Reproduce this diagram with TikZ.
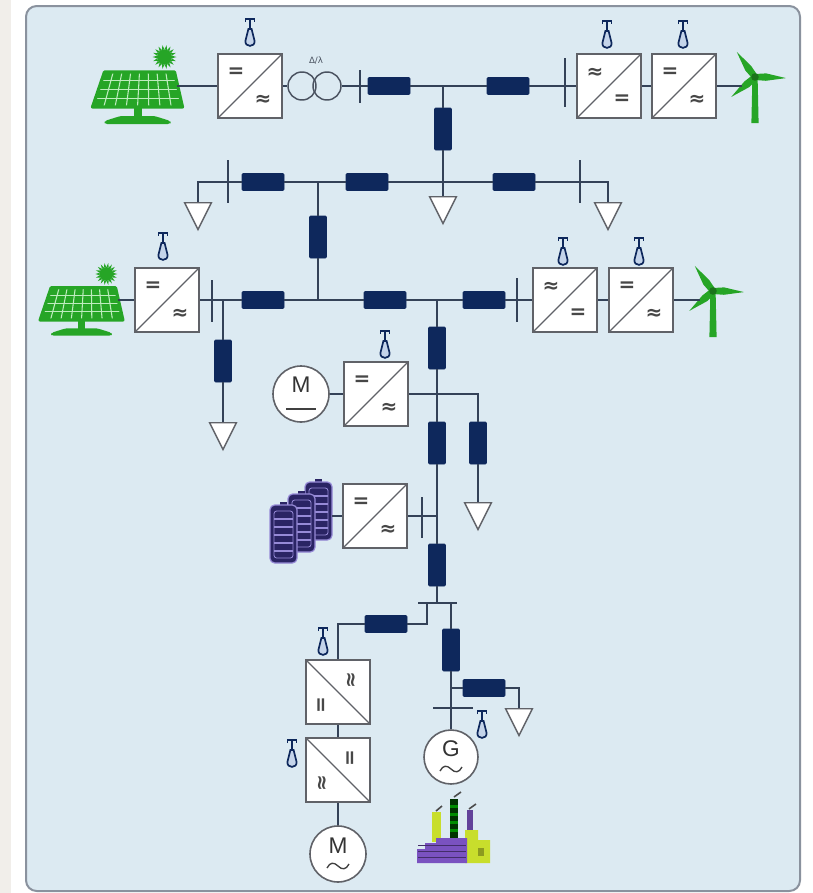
\documentclass[tikz,border=0pt]{standalone}
\usepackage{fontspec}
\setsansfont{Liberation Sans}
\newfontfamily\convfont{DejaVu Sans}
\usetikzlibrary{shapes.geometric,calc}

\definecolor{outerbg}{RGB}{241,238,234}
\definecolor{panelbg}{RGB}{220,234,242}
\definecolor{panelrim}{RGB}{138,146,158}
\definecolor{navy}{RGB}{14,40,92}
\definecolor{wirec}{RGB}{52,66,88}
\definecolor{boxrim}{RGB}{96,98,104}
\definecolor{trcol}{RGB}{74,82,96}
\definecolor{pvgreen}{RGB}{38,165,38}
\definecolor{pvgrid}{RGB}{190,236,190}
\definecolor{antfill}{RGB}{196,212,234}
\definecolor{battc}{RGB}{42,36,100}
\definecolor{battl}{RGB}{150,138,215}
\definecolor{facpurple}{RGB}{122,82,192}
\definecolor{faclime}{RGB}{200,222,44}

\tikzset{
  wire/.style={draw=wirec, line width=1.4pt},
  busbar/.style={draw=wirec, line width=1.5pt},
  seg/.style={rectangle, draw=navy, fill=navy, line width=0.5pt, rounded corners=0.8pt,
    minimum width=31.5pt, minimum height=12.75pt, inner sep=0pt},
  vseg/.style={seg, minimum width=12.75pt, minimum height=31.5pt},
  load/.style={isosceles triangle, isosceles triangle stretches, shape border rotate=270,
    minimum width=20pt, minimum height=20pt, inner sep=0pt, draw=boxrim, fill=white,
    line width=1.1pt, anchor=north},
  convsym/.style={font=\convfont\bfseries\fontsize{15}{17}\selectfont, text=black!72, inner sep=0pt},
  conv/.style 2 args={rectangle, draw=boxrim, fill=white, line width=1.8pt, minimum size=48pt, inner sep=0pt,
    path picture={
      \draw[boxrim, line width=0.9pt] (path picture bounding box.south west) -- (path picture bounding box.north east);
      \node[convsym] at ([shift={(-14,-13)}]path picture bounding box.center) {#1};
      \node[convsym] at ([shift={(13,14)}]path picture bounding box.center) {#2};
    }},
  convr/.style 2 args={rectangle, draw=boxrim, fill=white, line width=1.8pt, minimum size=48pt, inner sep=0pt,
    path picture={
      \draw[boxrim, line width=0.9pt] (path picture bounding box.north west) -- (path picture bounding box.south east);
      \node[convsym, rotate=90] at ([shift={(14,-12)}]path picture bounding box.center) {#1};
      \node[convsym, rotate=90] at ([shift={(-15,13)}]path picture bounding box.center) {#2};
    }},
  machtext/.style={font=\sffamily\fontsize{17}{20}\selectfont, text=black!80, inner sep=0pt},
  dcmach/.style={circle, draw=boxrim, fill=white, line width=1.2pt, minimum size=42pt, inner sep=0pt,
    path picture={
      \node[machtext] at ([shift={(0,-9)}]path picture bounding box.center) {#1};
      \draw[black!75, line width=1pt] ([shift={(-15,15)}]path picture bounding box.center)
        -- ([shift={(15,15)}]path picture bounding box.center);
    }},
  acmach/.style 2 args={circle, draw=boxrim, fill=white, line width=1.2pt, minimum size=#2, inner sep=0pt,
    path picture={
      \node[machtext] at ([shift={(0,-8)}]path picture bounding box.center) {#1};
      \draw[black!75, line width=1pt, shift={(path picture bounding box.center)}]
        (-11,14) .. controls (-8,8) and (-4,8) .. (0,12) .. controls (4,16) and (8,16) .. (11,10);
    }},
  trc/.style={circle, draw=trcol, line width=1.1pt, minimum size=21pt, inner sep=0pt},
  % radio antenna of a controllable converter, origin at its foot
  ant/.pic={
    \draw[navy, line width=1.3pt, fill=antfill] (-1.6,-17) -- (-4.6,-5)
      .. controls (-5,1.5) and (5,1.5) .. (4.6,-5) -- (1.6,-17) -- cycle;
    \draw[navy, line width=1.4pt] (0,-17) -- (0,-27);
    \draw[navy, line width=1.4pt] (-4.5,-24) -- (-4.5,-27) -- (4.5,-27) -- (4.5,-24);
  },
  % photovoltaic panel with sun, origin at the bottom centre of the panel
  pv/.pic={
    \foreach \a in {0,20,...,340}
      \fill[pvgreen] ($(27,-50)+(\a:12)$) -- ($(27,-50)+(\a+10:7.5)$) -- ($(27,-50)+(\a-10:7.5)$) -- cycle;
    \fill[pvgreen] (27,-50) circle[radius=7.5];
    \fill[pvgreen] (-4,-1) rectangle (4,11);
    \fill[pvgreen, rounded corners=2pt] (-17,9) -- (17,9) -- (33,14) -- (33,17) -- (-33,17) -- (-33,14) -- cycle;
    \fill[pvgreen] (-33,-35) -- (37,-35) -- (45,0) -- (-45,0) -- cycle;
    \foreach \i in {1,...,7}
      \draw[pvgrid, line width=0.8pt] ($(-33,-35)!\i/8!(37,-35)$) -- ($(-45,0)!\i/8!(45,0)$);
    \foreach \k in {1,2,3}
      \draw[pvgrid, line width=0.8pt] ($(-33,-35)!\k/4!(-45,0)$) -- ($(37,-35)!\k/4!(45,0)$);
    \draw[pvgreen, line width=2.4pt, line join=round] (-33,-35) -- (37,-35) -- (45,0) -- (-45,0) -- cycle;
  },
  % wind turbine, origin at the hub
  wt/.pic={
    \fill[pvgreen] (-2.6,0) -- (2.6,0) -- (3.6,46) -- (-3.6,46) -- cycle;
    \foreach \r in {126,-2,220}
      \fill[pvgreen, rotate=\r] (0,-3) -- (11,-4) -- (31,0) -- (11,3.4) -- (0,3) -- cycle;
    \fill[pvgreen!70!black] (0,0) circle[radius=3.8];
  },
  % one battery cell, origin at its top left corner
  cell/.pic={
    \fill[battc] (10,-3) rectangle (17,1);
    \draw[battl, line width=0.9pt, fill=battc, rounded corners=3.5pt] (0,0) rectangle (27,58);
    \draw[battl, line width=0.6pt, rounded corners=2pt] (4,6) rectangle (23,53);
    \foreach \y in {14,22,30,38,46}
      \draw[battl, line width=0.8pt] (4,\y) -- (23,\y);
  },
}

\begin{document}
\begin{tikzpicture}[x=0.75pt,y=-0.75pt]
\useasboundingbox (0,0) rectangle (813,893);
\fill[white] (0,0) rectangle (813,893);
\fill[outerbg] (0,0) rectangle (11,893);
\draw[panelrim, line width=1.5pt, fill=panelbg, rounded corners=8pt] (26,6) rectangle (800,891);

% ---------- upper feeder ----------
\pic (pv1) at (137.5,107) {pv};
\coordinate (pv1r) at (177,86);
\node[conv={=}{≈}] (c1) at (250,86) {};
\node[trc] (t1a) at (302,86) {};
\node[trc] (t1b) at (327,86) {};
\node[font=\convfont\fontsize{6.5}{7}\selectfont, text=trcol, inner sep=0pt] (trlab) at (316,61) {Δ/λ};
\coordinate (b1) at (360,86);
\node[seg] (s1) at (389,86) {};
\coordinate (j1) at (443,86);
\node[seg] (s2) at (508,86) {};
\coordinate (b2) at (565,86);
\node[conv={≈}{=}] (c2) at (609,86) {};
\node[conv={=}{≈}] (c3) at (684,86) {};
\pic (wt1) at (755,77) {wt};
\coordinate (wt1l) at (742,86);
\node[vseg] (s3) at (443,129) {};

% ---------- second feeder ----------
\coordinate (j2) at (443,182);
\node[load] (l1) at (443,196) {};
\node[load] (l2) at (198,202) {};
\node[seg] (s4) at (263,182) {};
\coordinate (j3) at (318,182);
\node[seg] (s5) at (367,182) {};
\node[seg] (s6) at (514,182) {};
\node[load] (l3) at (608,202) {};
\node[vseg] (s7) at (318,237) {};

% ---------- third feeder ----------
\pic[scale=0.92] (pv2) at (81.5,320) {pv};
\coordinate (pv2r) at (118,300);
\node[conv={=}{≈}] (c4) at (167,300) {};
\coordinate (j5) at (223,300);
\node[seg] (s9) at (263,300) {};
\coordinate (j4) at (318,300);
\node[seg] (s10) at (385,300) {};
\coordinate (j6) at (437,300);
\node[seg] (s11) at (484,300) {};
\node[conv={≈}{=}] (c5) at (565,300) {};
\node[conv={=}{≈}] (c6) at (641,300) {};
\pic (wt2) at (713,291) {wt};
\coordinate (wt2l) at (700,300);
\node[vseg] (s8) at (223,361) {};
\node[load] (l4) at (223,422) {};

% ---------- radial branch ----------
\node[vseg] (s12) at (437,348) {};
\coordinate (j7) at (437,394);
\node[dcmach=M] (m1) at (301,394) {};
\node[conv={=}{≈}] (c7) at (376,394) {};
\node[vseg] (s13) at (478,443) {};
\node[load] (l5) at (478,502) {};
\node[vseg] (s14) at (437,443) {};
\coordinate (j8) at (437,516);
\pic (bc3) at (305,482) {cell};
\pic (bc2) at (288,494) {cell};
\pic (bc1) at (270,505) {cell};
\coordinate (battr) at (332,516);
\node[conv={=}{≈}] (c8) at (375,516) {};
\node[vseg] (s15) at (437,565) {};
\coordinate (b8m) at (437,603);
\coordinate (b8l) at (427,603);
\coordinate (b8r) at (451,603);
\node[seg] (s16) at (386,624) {};
\node[convr={≈}{=}] (c9) at (338,692) {};
\node[convr={=}{≈}] (c10) at (338,770) {};
\node[acmach={M}{42pt}] (m2) at (338,854) {};
\node[vseg] (s17) at (451,650) {};
\coordinate (j9) at (451,688);
\node[seg] (s18) at (484,688) {};
\node[load] (l6) at (519,708) {};
\coordinate (b9) at (451,708);
\node[acmach={G}{40.5pt}] (g1) at (451,757) {};

% ---------- connections ----------
\draw[wire] (pv1r) -- (c1.west);
\draw[wire] (c1.east) -- (t1a.west);
\draw[wire] (t1b.east) -- (b1) -- (s1.west);
\draw[wire] (s1.east) -- (j1) -- (s2.west);
\draw[wire] (s2.east) -- (b2) -- (c2.west);
\draw[wire] (c2.east) -- (c3.west);
\draw[wire] (c3.east) -- (wt1l);
\draw[wire] (j1) -- (s3.north);
\draw[wire] (s3.south) -- (j2) -- (l1.north);
\draw[wire] (l2.north) |- (s4.west);
\draw[wire] (s4.east) -- (j3) -- (s5.west);
\draw[wire] (s5.east) -- (j2) -- (s6.west);
\draw[wire] (s6.east) -| (l3.north);
\draw[wire] (j3) -- (s7.north);
\draw[wire] (s7.south) -- (j4);
\draw[wire] (pv2r) -- (c4.west);
\draw[wire] (c4.east) -- (j5) -- (s9.west);
\draw[wire] (s9.east) -- (j4) -- (s10.west);
\draw[wire] (s10.east) -- (j6) -- (s11.west);
\draw[wire] (s11.east) -- (c5.west);
\draw[wire] (c5.east) -- (c6.west);
\draw[wire] (c6.east) -- (wt2l);
\draw[wire] (j5) -- (s8.north);
\draw[wire] (s8.south) -- (l4.north);
\draw[wire] (j6) -- (s12.north);
\draw[wire] (s12.south) -- (j7) -- (s14.north);
\draw[wire] (m1.east) -- (c7.west);
\draw[wire] (c7.east) -| (s13.north);
\draw[wire] (s13.south) -- (l5.north);
\draw[wire] (s14.south) -- (j8) -- (s15.north);
\draw[wire] (battr) -- (c8.west);
\draw[wire] (c8.east) -- (j8);
\draw[wire] (s15.south) -- (b8m);
\draw[wire] (b8l) |- (s16.east);
\draw[wire] (s16.west) -| (c9.north);
\draw[wire] (c9.south) -- (c10.north);
\draw[wire] (c10.south) -- (m2.north);
\draw[wire] (b8r) -- (s17.north);
\draw[wire] (s17.south) -- (j9) -- (b9) -- (g1.north);
\draw[wire] (j9) -- (s18.west);
\draw[wire] (s18.east) -| (l6.north);

% ---------- busbars ----------
\draw[busbar] (360,70) -- (360,103);
\draw[busbar] (565,58) -- (565,107);
\draw[busbar] (228,160) -- (228,203);
\draw[busbar] (580,160) -- (580,203);
\draw[busbar] (212,280) -- (212,322);
\draw[busbar] (517,278) -- (517,322);
\draw[busbar] (422,497) -- (422,538);
\draw[busbar] (418,603) -- (457,603);
\draw[busbar] (433,708) -- (473,708);

% ---------- converter antennas ----------
\pic at (250,46) {ant};
\pic at (607,48) {ant};
\pic at (683,48) {ant};
\pic at (163,260) {ant};
\pic at (563,265) {ant};
\pic at (639,265) {ant};
\pic at (385,358) {ant};
\pic at (323,655) {ant};
\pic at (292,767) {ant};
\pic at (482,738) {ant};

% ---------- power plant ----------
\draw[black!70, line width=1.2pt] (436,811) -- (442,806);
\draw[black!70, line width=1.2pt] (454,797) -- (461,792);
\draw[black!70, line width=1.2pt] (469,809) -- (476,804);
\fill[faclime] (432,812) rectangle (441,842);
\fill[black!80!green] (450,799) rectangle (458,842);
\foreach \y in {805,813,821,829}
  \fill[green!55!black] (450,\y) rectangle (458,\y+3);
\fill[facpurple!80!black] (467,810) rectangle (473,836);
\fill[faclime] (465,830) -- (478,830) -- (478,840) -- (490,840) -- (490,863) -- (465,863) -- cycle;
\fill[facpurple] (417,863) -- (417,849) -- (425,849) -- (425,843) -- (436,843) -- (436,838) -- (467,838) -- (467,863) -- cycle;
\foreach \y in {845,851,857}
  \draw[facpurple!55!black, line width=0.6pt] (418,\y) -- (466,\y);
\fill[faclime!70!black] (478,848) rectangle (484,856);
\end{tikzpicture}
\end{document}
